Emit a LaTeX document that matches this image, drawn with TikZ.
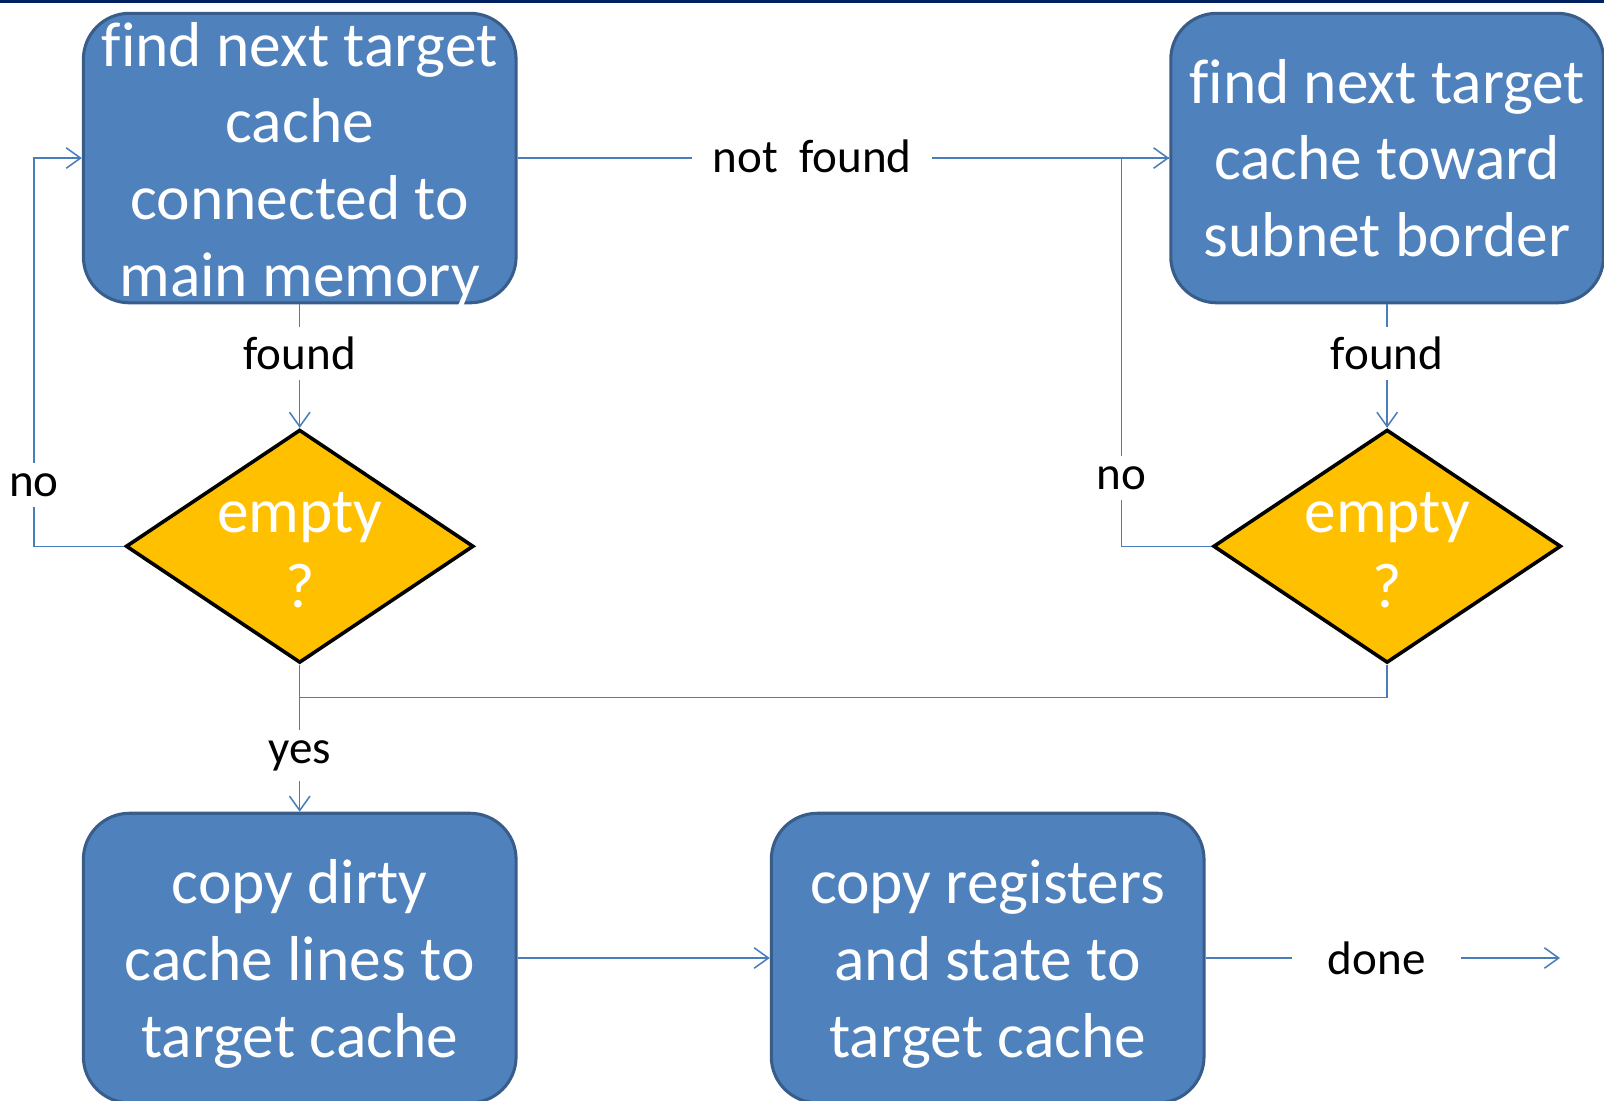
\documentclass[tikz,border=0pt]{standalone}
\usepackage{fontspec}
\setmainfont[Ligatures=NoCommon]{Carlito}
\usetikzlibrary{shapes.geometric,arrows.meta}
\definecolor{boxfill}{HTML}{4F81BD}
\definecolor{boxline}{HTML}{385D8A}
\definecolor{conncol}{HTML}{4A7EBB}
\definecolor{diafill}{HTML}{FFC000}
\definecolor{topbar}{HTML}{002060}
\begin{document}
\begin{tikzpicture}[x=1pt,y=-1pt,
 box/.style={draw=boxline, line width=3pt, fill=boxfill, rounded corners=45pt, minimum width=423pt, minimum height=283pt, inner sep=0pt},
 boxtext/.style={text=white, align=center, font=\fontsize{62}{75}\selectfont, inner sep=0pt, yshift=-6pt},
 dia/.style={diamond, draw=black, line width=3.5pt, fill=diafill, minimum width=340pt, minimum height=228pt, inner sep=0pt},
 diatext/.style={text=white, align=center, font=\fontsize{62}{73}\selectfont, inner sep=0pt, yshift=-4pt},
 conn/.style={draw=conncol, line width=1.5pt},
 arr/.style={conn, -{Straight Barb[length=14pt,width=20pt]}},
 lbl/.style={fill=white, font=\fontsize{46}{55}\selectfont, text=black, inner sep=10pt}
]
\useasboundingbox (0,0) rectangle (1568,1076);
\fill[topbar] (0,0) rectangle (1568,3);

\node[box, label={[boxtext]center:find next target\\cache\\connected to\\main memory}] (b1) at (293,154.5) {};
\node[box, label={[boxtext, yshift=6pt]center:find next target\\cache toward\\subnet border}] (b2) at (1356,154.5) {};
\node[box, label={[boxtext]center:copy dirty\\cache lines to\\target cache}] (b3) at (293,936.5) {};
\node[box, label={[boxtext]center:copy registers\\and state to\\target cache}] (b4) at (965.5,936.5) {};

\node[dia, label={[diatext]center:empty\\?}] (d1) at (293,534) {};
\node[dia, label={[diatext]center:empty\\?}] (d2) at (1356,534) {};

\coordinate (j3) at (293,682);
\coordinate (fin) at (1525,936.5);

\draw[arr] (b1.east) -- node[lbl, pos=0.452, inner xsep=20pt, yshift=2pt]{not\ \ found} (b2.west);
\draw[arr] (b1.south) -- node[lbl, pos=0.4]{found} (d1.north);
\draw[arr] (b2.south) -- node[lbl, pos=0.4]{found} (d2.north);
\draw[arr] (d1.west) -- ++(-88,0) |- node[lbl, pos=0.079]{no} (b1.west);
\draw[conn] (d2.west) -- ++(-88,0) |- node[lbl, pos=0.088]{no} (b2.west);
\draw[conn] (d2.south) |- (j3);
\draw[arr] (d1.south) -- node[lbl, pos=0.62]{yes} (b3.north);
\draw[arr] (b3.east) -- (b4.west);
\draw[arr] (b4.east) -- node[lbl, pos=0.483, inner xsep=35pt]{done} (fin);
\end{tikzpicture}
\end{document}
